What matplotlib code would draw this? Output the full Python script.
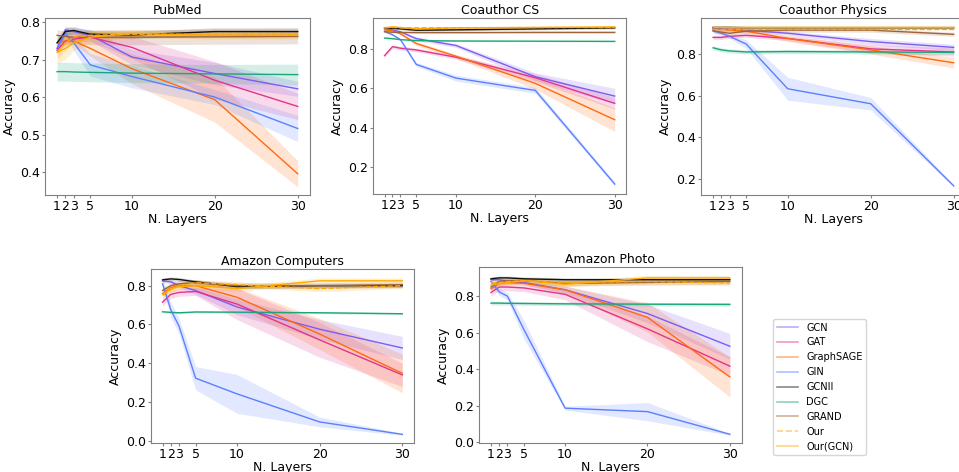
import numpy as np
import matplotlib
matplotlib.use('Agg')
import matplotlib.pyplot as plt
from matplotlib.lines import Line2D

plt.rcParams['font.family'] = ['DejaVu Sans']
plt.rcParams['font.size'] = 9

# 层数
layers = [1, 2, 3, 5, 10, 20, 30]
models = ['GCN', 'GAT', 'GraphSAGE', 'GIN', 'GCNII', 'DGC', 'GRAND', 'Our', 'Our(GCN)']
colors = ['#7d5cf2', '#e2348c', '#ff6a10', '#5b80ff', '#111111', '#1ba67a', '#a0623a', '#ffa500', '#ffaa00']
styles = ['-', '-', '-', '-', '-', '-', '-', '--', '-']

# PubMed
pubmed_mean = [
    [0.730, 0.780, 0.775, 0.765, 0.707, 0.663, 0.622],
    [0.725, 0.750, 0.755, 0.760, 0.733, 0.645, 0.575],
    [0.745, 0.750, 0.750, 0.730, 0.676, 0.593, 0.395],
    [0.730, 0.770, 0.745, 0.686, 0.655, 0.600, 0.516],
    [0.745, 0.775, 0.778, 0.768, 0.766, 0.775, 0.775],
    [0.668, 0.668, 0.667, 0.666, 0.664, 0.662, 0.660],
    [0.765, 0.762, 0.760, 0.760, 0.760, 0.761, 0.762],
    [0.720, 0.745, 0.760, 0.765, 0.768, 0.768, 0.768],
    [0.720, 0.730, 0.745, 0.760, 0.770, 0.765, 0.765],
]
pubmed_std = [
    [0.01, 0.01, 0.01, 0.015, 0.02, 0.03, 0.02],
    [0.01, 0.01, 0.01, 0.01, 0.03, 0.05, 0.035],
    [0.01, 0.01, 0.01, 0.02, 0.04, 0.06, 0.035],
    [0.01, 0.01, 0.02, 0.03, 0.03, 0.02, 0.035],
    [0.015, 0.01, 0.01, 0.01, 0.01, 0.01, 0.01],
    [0.025, 0.025, 0.025, 0.025, 0.025, 0.025, 0.028],
    [0.015, 0.015, 0.015, 0.02, 0.02, 0.02, 0.02],
    [0.02, 0.02, 0.015, 0.01, 0.01, 0.01, 0.01],
    [0.03, 0.03, 0.02, 0.015, 0.01, 0.01, 0.01],
]

# Coauthor CS
cs_mean = [
    [0.905, 0.900, 0.890, 0.855, 0.820, 0.660, 0.561],
    [0.768, 0.814, 0.806, 0.797, 0.760, 0.655, 0.524],
    [0.900, 0.895, 0.880, 0.830, 0.765, 0.626, 0.440],
    [0.892, 0.875, 0.850, 0.723, 0.653, 0.590, 0.111],
    [0.910, 0.908, 0.905, 0.898, 0.900, 0.905, 0.910],
    [0.858, 0.855, 0.850, 0.845, 0.843, 0.842, 0.841],
    [0.890, 0.888, 0.887, 0.886, 0.886, 0.887, 0.887],
    [0.912, 0.912, 0.911, 0.910, 0.911, 0.912, 0.912],
    [0.910, 0.915, 0.912, 0.905, 0.910, 0.912, 0.915],
]
cs_std = [
    [0.005, 0.005, 0.005, 0.01, 0.01, 0.02, 0.04],
    [0.01, 0.01, 0.01, 0.01, 0.01, 0.02, 0.03],
    [0.005, 0.005, 0.005, 0.01, 0.01, 0.03, 0.06],
    [0.005, 0.005, 0.005, 0.01, 0.015, 0.015, 0.01],
    [0.005, 0.005, 0.005, 0.005, 0.005, 0.005, 0.005],
    [0.003, 0.003, 0.003, 0.003, 0.003, 0.003, 0.003],
    [0.005, 0.005, 0.005, 0.005, 0.005, 0.005, 0.005],
    [0.005, 0.005, 0.005, 0.005, 0.005, 0.005, 0.005],
    [0.005, 0.005, 0.005, 0.005, 0.005, 0.005, 0.005],
]

# Coauthor Physics
phys_mean = [
    [0.920, 0.920, 0.918, 0.915, 0.900, 0.860, 0.832],
    [0.880, 0.880, 0.885, 0.890, 0.875, 0.825, 0.810],
    [0.920, 0.918, 0.915, 0.910, 0.875, 0.820, 0.758],
    [0.911, 0.900, 0.885, 0.848, 0.633, 0.561, 0.166],
    [0.928, 0.928, 0.928, 0.927, 0.927, 0.927, 0.927],
    [0.830, 0.820, 0.815, 0.810, 0.812, 0.810, 0.808],
    [0.912, 0.905, 0.900, 0.910, 0.915, 0.915, 0.895],
    [0.919, 0.919, 0.919, 0.919, 0.919, 0.919, 0.919],
    [0.930, 0.930, 0.930, 0.930, 0.930, 0.930, 0.930],
]
phys_std = [
    [0.01, 0.01, 0.01, 0.01, 0.01, 0.015, 0.015],
    [0.01, 0.01, 0.01, 0.01, 0.01, 0.02, 0.02],
    [0.01, 0.01, 0.01, 0.01, 0.015, 0.02, 0.025],
    [0.01, 0.01, 0.01, 0.02, 0.055, 0.03, 0.005],
    [0.005, 0.005, 0.005, 0.005, 0.005, 0.005, 0.005],
    [0.01, 0.01, 0.01, 0.01, 0.01, 0.01, 0.01],
    [0.01, 0.01, 0.01, 0.01, 0.01, 0.01, 0.01],
    [0.005, 0.005, 0.005, 0.005, 0.005, 0.005, 0.005],
    [0.005, 0.005, 0.005, 0.005, 0.005, 0.005, 0.005],
]

# Amazon Computers
comp_mean = [
    [0.824, 0.820, 0.800, 0.775, 0.690, 0.575, 0.478],
    [0.715, 0.755, 0.765, 0.770, 0.705, 0.520, 0.339],
    [0.760, 0.790, 0.800, 0.800, 0.740, 0.550, 0.347],
    [0.810, 0.675, 0.590, 0.322, 0.241, 0.096, 0.032],
    [0.830, 0.835, 0.832, 0.820, 0.795, 0.800, 0.800],
    [0.665, 0.662, 0.660, 0.664, 0.663, 0.660, 0.655],
    [0.775, 0.800, 0.810, 0.815, 0.800, 0.800, 0.805],
    [0.750, 0.780, 0.800, 0.815, 0.805, 0.785, 0.800],
    [0.755, 0.785, 0.795, 0.800, 0.785, 0.825, 0.825],
]
comp_std = [
    [0.01, 0.01, 0.01, 0.02, 0.04, 0.05, 0.06],
    [0.02, 0.02, 0.02, 0.02, 0.08, 0.09, 0.06],
    [0.01, 0.01, 0.01, 0.02, 0.05, 0.08, 0.1],
    [0.02, 0.04, 0.04, 0.06, 0.1, 0.025, 0.005],
    [0.01, 0.01, 0.01, 0.01, 0.01, 0.01, 0.01],
    [0.005, 0.005, 0.005, 0.005, 0.005, 0.005, 0.005],
    [0.015, 0.015, 0.015, 0.015, 0.015, 0.015, 0.015],
    [0.015, 0.015, 0.015, 0.015, 0.015, 0.015, 0.015],
    [0.015, 0.015, 0.015, 0.015, 0.015, 0.015, 0.015],
]

# Amazon Photo
photo_mean = [
    [0.890, 0.890, 0.880, 0.875, 0.835, 0.705, 0.526],
    [0.820, 0.850, 0.850, 0.845, 0.810, 0.621, 0.417],
    [0.840, 0.870, 0.875, 0.870, 0.835, 0.684, 0.358],
    [0.880, 0.823, 0.800, 0.617, 0.187, 0.168, 0.044],
    [0.895, 0.900, 0.900, 0.895, 0.890, 0.890, 0.890],
    [0.762, 0.762, 0.761, 0.760, 0.758, 0.756, 0.755],
    [0.850, 0.880, 0.885, 0.885, 0.870, 0.875, 0.880],
    [0.870, 0.875, 0.880, 0.885, 0.875, 0.880, 0.872],
    [0.860, 0.870, 0.875, 0.885, 0.865, 0.900, 0.900],
]
photo_std = [
    [0.01, 0.01, 0.01, 0.01, 0.02, 0.05, 0.07],
    [0.02, 0.02, 0.02, 0.02, 0.03, 0.07, 0.05],
    [0.01, 0.01, 0.01, 0.01, 0.02, 0.08, 0.11],
    [0.01, 0.02, 0.02, 0.05, 0.01, 0.05, 0.005],
    [0.01, 0.01, 0.01, 0.01, 0.01, 0.01, 0.01],
    [0.01, 0.01, 0.01, 0.01, 0.01, 0.01, 0.01],
    [0.015, 0.015, 0.015, 0.015, 0.015, 0.015, 0.015],
    [0.015, 0.015, 0.015, 0.015, 0.015, 0.015, 0.015],
    [0.015, 0.015, 0.015, 0.015, 0.015, 0.015, 0.015],
]

panels = [
    ('PubMed', pubmed_mean, pubmed_std, [0.047, 0.587, 0.276, 0.375]),
    ('Coauthor CS', cs_mean, cs_std, [0.389, 0.589, 0.264, 0.373]),
    ('Coauthor Physics', phys_mean, phys_std, [0.731, 0.587, 0.276, 0.375]),
    ('Amazon Computers', comp_mean, comp_std, [0.157, 0.061, 0.275, 0.369]),
    ('Amazon Photo', photo_mean, photo_std, [0.4995, 0.061, 0.274, 0.373]),
]

fig = plt.figure(figsize=(9.59, 4.72), dpi=100)
for title, means, stds, pos in panels:
    ax = fig.add_axes(pos)
    for i, name in enumerate(models):
        m = np.array(means[i])
        s = np.array(stds[i])
        ax.fill_between(layers, m - s, m + s, color=colors[i], alpha=0.18, linewidth=0)
        ax.plot(layers, m, color=colors[i], linestyle=styles[i], linewidth=1)
    ax.set_xticks(layers)
    ax.set_xticklabels([str(l) for l in layers])
    ax.set_title(title, fontsize=9, pad=3)
    ax.set_xlabel('N. Layers', fontsize=9, labelpad=0)
    ax.set_ylabel('Accuracy', fontsize=9, labelpad=3)
    ax.tick_params(labelsize=9, color='#808080', length=2.5, pad=1)
    for sp in ax.spines.values():
        sp.set_color('#808080')

handles = [Line2D([0], [0], color=colors[i], linestyle=styles[i], linewidth=1.2, alpha=0.5)
           for i in range(len(models))]
fig.legend(handles, models, loc='upper left', bbox_to_anchor=(0.801, 0.335),
           fontsize=7, frameon=True, labelspacing=0.5, handlelength=2.2)

fig.savefig('out.png', dpi=100)
